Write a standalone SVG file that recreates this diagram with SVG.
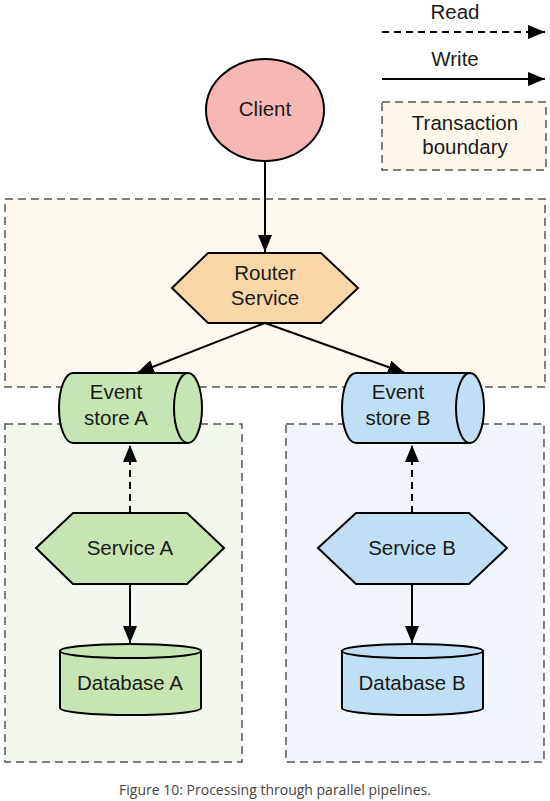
<svg xmlns="http://www.w3.org/2000/svg" width="550" height="801" viewBox="0 0 550 801">
<defs>
<marker id="ah" markerUnits="userSpaceOnUse" markerWidth="17" markerHeight="14" refX="17" refY="7" orient="auto"><path d="M0,0 L17,7 L0,14 Z" fill="#000"/></marker>
<style>
.t{font-family:"Liberation Sans",Arial,sans-serif;font-size:20.5px;fill:#1a1a1a;text-anchor:middle}
.s{stroke:#000;stroke-width:2}
.box{stroke:#555;stroke-width:1.5;stroke-dasharray:8,5}
.ln{stroke:#000;stroke-width:2;fill:none}
.dash{stroke-dasharray:7,5}
.green{fill:#c6e5b2}
.blue{fill:#c0dff5}
</style>
</defs>
<rect width="550" height="801" fill="#fff"/>
<g id="boundaries">
<rect x="5" y="199" width="540" height="188" fill="#fdf9ee" class="box"/>
<rect x="5" y="424" width="237" height="338" fill="#f2f8ed" class="box"/>
<rect x="286" y="424" width="258" height="338" fill="#f0f6fb" class="box"/>
</g>
<g id="legend">
<text class="t" x="455" y="19">Read</text>
<line x1="382" y1="32" x2="545" y2="32" class="ln dash" stroke-dasharray="8,6" marker-end="url(#ah)"/>
<text class="t" x="455" y="66">Write</text>
<line x1="382" y1="79" x2="545" y2="79" class="ln" marker-end="url(#ah)"/>
<rect x="382" y="102" width="164" height="68" fill="#fdf8ea" class="box"/>
<text class="t" x="465" y="130">Transaction</text>
<text class="t" x="465" y="154">boundary</text>
</g>
<g id="client">
<ellipse cx="265" cy="110" rx="59" ry="51" fill="#f7b7b5" class="s"/>
<text class="t" x="265" y="116">Client</text>
</g>
<g id="router">
<polygon points="172,288 208,253 321,253 358,288 321,323 208,323" fill="#fbd6a6" class="s"/>
<text class="t" x="265" y="280">Router</text>
<text class="t" x="265" y="305">Service</text>
</g>
<g id="eventStoreA">
<path d="M188,373 L73,373 A14,35 0 0 0 73,443 L188,443 Z" class="s green"/>
<ellipse cx="188" cy="408" rx="14" ry="35" class="s green"/>
<text class="t" x="116" y="399">Event</text>
<text class="t" x="116" y="425">store A</text>
</g>
<g id="eventStoreB">
<path d="M470,373 L356,373 A14,35 0 0 0 356,443 L470,443 Z" class="s blue"/>
<ellipse cx="470" cy="408" rx="14" ry="35" class="s blue"/>
<text class="t" x="398" y="399">Event</text>
<text class="t" x="398" y="425">store B</text>
</g>
<g id="serviceA">
<polygon points="36,548 73,513 187,513 224,548 187,584 73,584" class="s green"/>
<text class="t" x="130" y="555">Service A</text>
</g>
<g id="serviceB">
<polygon points="318,548 356,513 469,513 507,548 469,584 356,584" class="s blue"/>
<text class="t" x="412" y="555">Service B</text>
</g>
<g id="databaseA">
<path d="M60,651 L60,708 A70.5,7 0 0 0 201,708 L201,651 Z" class="s green"/>
<ellipse cx="130.5" cy="651" rx="70.5" ry="7" class="s green"/>
<text class="t" x="130" y="690">Database A</text>
</g>
<g id="databaseB">
<path d="M342,651 L342,708 A70.5,7 0 0 0 483,708 L483,651 Z" class="s blue"/>
<ellipse cx="412.5" cy="651" rx="70.5" ry="7" class="s blue"/>
<text class="t" x="412" y="690">Database B</text>
</g>
<g id="connectors">
<line x1="265" y1="161" x2="265" y2="252" class="ln" marker-end="url(#ah)"/>
<line x1="265" y1="323" x2="137" y2="373" class="ln" marker-end="url(#ah)"/>
<line x1="265" y1="323" x2="405" y2="373" class="ln" marker-end="url(#ah)"/>
<line x1="130" y1="513" x2="130" y2="445" class="ln dash" marker-end="url(#ah)"/>
<line x1="412" y1="513" x2="412" y2="445" class="ln dash" marker-end="url(#ah)"/>
<line x1="130" y1="584" x2="130" y2="643" class="ln" marker-end="url(#ah)"/>
<line x1="412" y1="584" x2="412" y2="643" class="ln" marker-end="url(#ah)"/>
</g>
<text x="275" y="795" font-family="'Open Sans',sans-serif" font-size="14" fill="#444" text-anchor="middle">Figure 10: Processing through parallel pipelines.</text>
</svg>
